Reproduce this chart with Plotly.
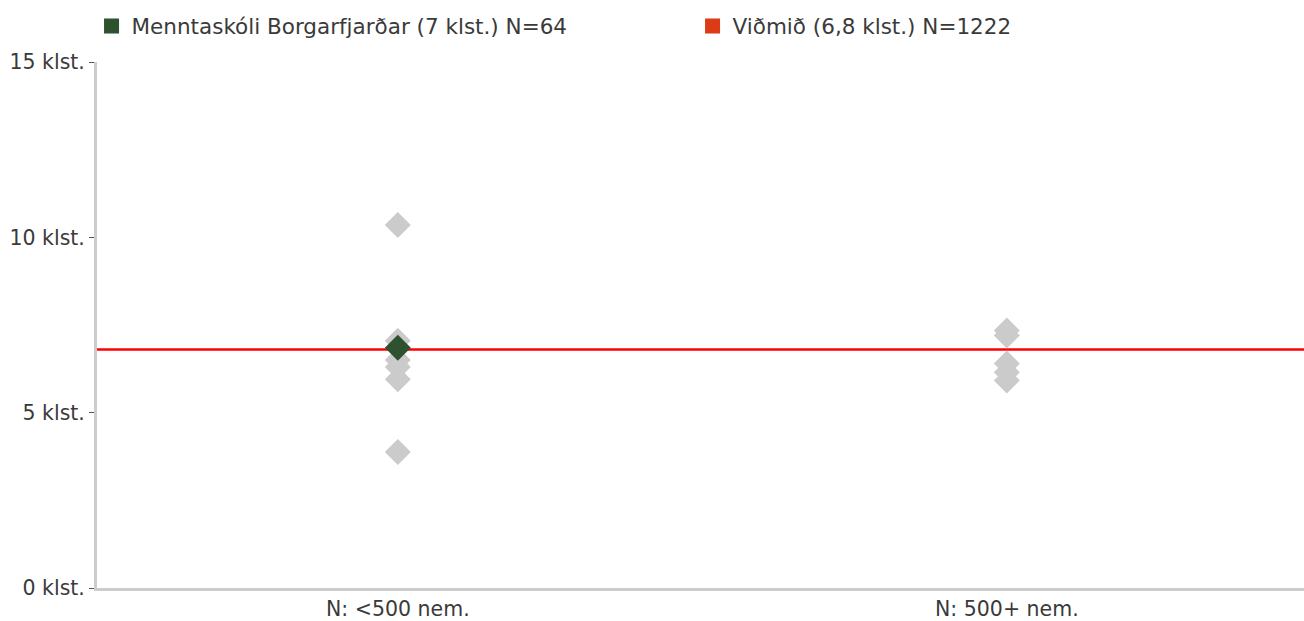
import plotly.graph_objects as go

categories = ["N: <500 nem.", "N: 500+ nem."]
y_ticks = [0, 5, 10, 15]
y_labels = ["0 klst.", "5 klst.", "10 klst.", "15 klst."]

# other schools, by size group
small_schools = [10.35, 7.05, 6.5, 6.3, 5.95, 3.88]
large_schools = [7.34, 7.2, 6.4, 6.15, 5.92]

school_name = "Menntaskóli Borgarfjarðar (7 klst.) N=64"
school_value = 6.85
benchmark_name = "Viðmið (6,8 klst.) N=1222"
benchmark = 6.8

grey = "#cbcbcb"
green = "#2e5130"
red_legend = "#dd3b17"

fig = go.Figure()

fig.add_trace(go.Scatter(
    x=[0] * len(small_schools) + [1] * len(large_schools),
    y=small_schools + large_schools,
    mode="markers",
    marker=dict(symbol="diamond", size=20, color=grey),
    showlegend=False, hoverinfo="y"))

fig.add_trace(go.Scatter(
    x=[0], y=[school_value], mode="markers",
    marker=dict(symbol="diamond", size=20, color=green),
    showlegend=False, hoverinfo="y"))

# legend entries
fig.add_trace(go.Scatter(x=[None], y=[None], mode="markers", name=school_name,
                         marker=dict(symbol="square", size=15, color=green)))
fig.add_trace(go.Scatter(x=[None], y=[None], mode="markers", name=benchmark_name,
                         marker=dict(symbol="square", size=15, color=red_legend)))

fig.add_shape(type="line", xref="paper", x0=0, x1=1, y0=benchmark, y1=benchmark,
              line=dict(color="#ff0000", width=2.5), layer="below")

fig.update_layout(
    width=1304, height=621,
    margin=dict(l=97, r=0, t=62, b=29),
    plot_bgcolor="white", paper_bgcolor="white",
    font=dict(family="DejaVu Sans", size=20.5, color="#3a3a3a"),
    legend=dict(orientation="h", xref="container", yref="container",
                x=0.0702, y=0.958, xanchor="left", yanchor="middle",
                entrywidth=556, entrywidthmode="pixels",
                font=dict(size=21.5)),
    xaxis=dict(range=[-0.494, 1.488], tickmode="array", tickvals=[0, 1],
               ticktext=categories, showgrid=False, zeroline=False,
               showline=True, linecolor="#cccccc", linewidth=3, ticks=""),
    yaxis=dict(range=[0, 15], tickmode="array", tickvals=y_ticks,
               ticktext=y_labels, showgrid=False, zeroline=False,
               showline=True, linecolor="#cccccc", linewidth=3,
               ticks="outside", ticklen=5, tickcolor="#555555", tickwidth=1),
)

# drop the default page margin so the figure fills the window exactly
fig.write_html("out.html", config={"displayModeBar": False},
               post_script="document.body.style.margin='0';")
